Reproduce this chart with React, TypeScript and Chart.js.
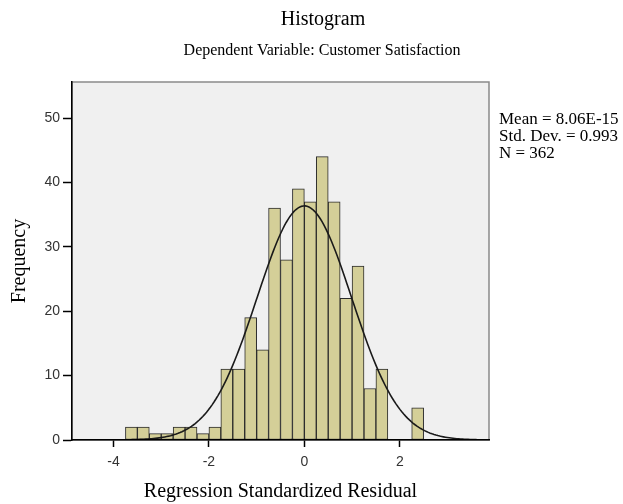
import React, { useEffect, useRef } from "react";
import { Chart, registerables } from "chart.js";

Chart.register(...registerables);

// ---- Data ----
const BIN_WIDTH = 0.25;
const BIN_STARTS = [
  -3.75, -3.5, -3.25, -3.0, -2.75, -2.5, -2.25, -2.0, -1.75, -1.5, -1.25, -1.0, -0.75,
  -0.5, -0.25, 0.0, 0.25, 0.5, 0.75, 1.0, 1.25, 1.5, 1.75, 2.0, 2.25,
];
const COUNTS = [
  2, 2, 1, 1, 2, 2, 1, 2, 11, 11, 19, 14, 36, 28, 39, 37, 44, 37, 22, 27, 8, 11, 0, 0, 5,
];

const MEAN = 8.06e-15;
const STD_DEV = 0.993;
const N = 362;

const X_MIN = -4.87;
const X_MAX = 3.87;
const Y_MIN = 0;
const Y_MAX = 55.6;
const X_TICKS = [-4, -2, 0, 2];
const Y_TICKS = [0, 10, 20, 30, 40, 50];

const TITLE = "Histogram";
const SUBTITLE = "Dependent Variable: Customer Satisfaction";
const X_TITLE = "Regression Standardized Residual";
const Y_TITLE = "Frequency";
const STATS_LINES = ["Mean = 8.06E-15", "Std. Dev. = 0.993", "N = 362"];

const SERIF = '"Liberation Serif", "Times New Roman", serif';
const SANS = '"Liberation Sans", Arial, sans-serif';

// Normal density curve implied by the stated mean / std. dev. / N (scaled to bin width)
function normalCurve() {
  const pts: { x: number; y: number }[] = [];
  const steps = 220;
  for (let i = 0; i <= steps; i++) {
    const x = X_MIN + ((X_MAX - X_MIN) * i) / steps;
    const z = (x - MEAN) / STD_DEV;
    const y = (N * BIN_WIDTH * Math.exp(-0.5 * z * z)) / (STD_DEV * Math.sqrt(2 * Math.PI));
    pts.push({ x, y });
  }
  return pts;
}

const decorPlugin = {
  id: "decor",
  beforeDraw(chart: any) {
    const { ctx, chartArea: a } = chart;
    ctx.save();
    ctx.fillStyle = "#f0f0f0";
    ctx.fillRect(a.left, a.top, a.right - a.left, a.bottom - a.top);
    ctx.strokeStyle = "#8a8a8a";
    ctx.lineWidth = 1.5;
    ctx.strokeRect(a.left, a.top, a.right - a.left, a.bottom - a.top);
    ctx.restore();
  },
  afterDraw(chart: any) {
    const { ctx } = chart;
    ctx.save();
    ctx.fillStyle = "#000";
    ctx.textAlign = "center";
    ctx.textBaseline = "alphabetic";
    ctx.font = `20px ${SERIF}`;
    ctx.fillText(TITLE, 323, 25);
    ctx.font = `16px ${SERIF}`;
    ctx.fillText(SUBTITLE, 322, 55);
    ctx.textAlign = "left";
    ctx.font = `17px ${SERIF}`;
    STATS_LINES.forEach((t, i) => ctx.fillText(t, 499, 124 + i * 17));
    ctx.restore();
  },
};

export default function App() {
  const ref = useRef<HTMLCanvasElement | null>(null);

  useEffect(() => {
    if (!ref.current) return;
    const barData = BIN_STARTS.map((s, i) => ({ x: s + BIN_WIDTH / 2, y: COUNTS[i] }));
    const chart = new Chart(ref.current, {
      type: "bar",
      data: {
        datasets: [
          {
            type: "line",
            data: normalCurve(),
            borderColor: "#1a1a1a",
            borderWidth: 1.6,
            pointRadius: 0,
            fill: false,
            tension: 0,
            order: 0,
          } as any,
          {
            type: "bar",
            data: barData,
            backgroundColor: "#d4cf98",
            borderColor: "#2b2b2b",
            borderWidth: 1,
            borderSkipped: false,
            barPercentage: 1,
            categoryPercentage: 1,
            grouped: false,
            order: 1,
          } as any,
        ],
      },
      options: {
        responsive: false,
        animation: false,
        events: [],
        layout: { padding: { left: 0, right: 134, top: 82, bottom: 0 } },
        plugins: {
          legend: { display: false },
          tooltip: { enabled: false },
          title: { display: false },
        },
        scales: {
          x: {
            type: "linear",
            min: X_MIN,
            max: X_MAX,
            offset: false,
            afterBuildTicks: (scale: any) => {
              scale.ticks = X_TICKS.map((v) => ({ value: v }));
            },
            afterFit: (scale: any) => {
              scale.height = 64;
            },
            grid: {
              offset: false,
              drawOnChartArea: false,
              drawTicks: true,
              tickLength: 7,
              tickColor: "#000",
              tickWidth: 1.5,
            },
            border: { display: true, color: "#000", width: 1.5, z: 1 },
            ticks: {
              color: "#333",
              padding: 7,
              font: { family: SANS, size: 14 },
              maxRotation: 0,
              autoSkip: false,
            },
            title: {
              display: true,
              text: X_TITLE,
              color: "#000",
              font: { family: SERIF, size: 20 },
              padding: { top: 0, bottom: 0 },
            },
          },
          y: {
            type: "linear",
            min: Y_MIN,
            max: Y_MAX,
            afterBuildTicks: (scale: any) => {
              scale.ticks = Y_TICKS.map((v) => ({ value: v }));
            },
            afterFit: (scale: any) => {
              scale.width = 72;
            },
            grid: {
              drawOnChartArea: false,
              drawTicks: true,
              tickLength: 9,
              tickColor: "#000",
              tickWidth: 1.5,
            },
            border: { display: true, color: "#000", width: 1.5, z: 1 },
            ticks: {
              color: "#333",
              padding: 3,
              font: { family: SANS, size: 14 },
              autoSkip: false,
            },
            title: {
              display: true,
              text: Y_TITLE,
              color: "#000",
              font: { family: SERIF, size: 20 },
              padding: { top: 8, bottom: 0 },
            },
          },
        },
      },
      plugins: [decorPlugin],
    });
    return () => chart.destroy();
  }, []);

  return (
    <div style={{ position: "fixed", left: 0, top: 0, width: 623, height: 504, background: "#fff" }}>
      <canvas ref={ref} width={623} height={504} style={{ display: "block" }} />
    </div>
  );
}
